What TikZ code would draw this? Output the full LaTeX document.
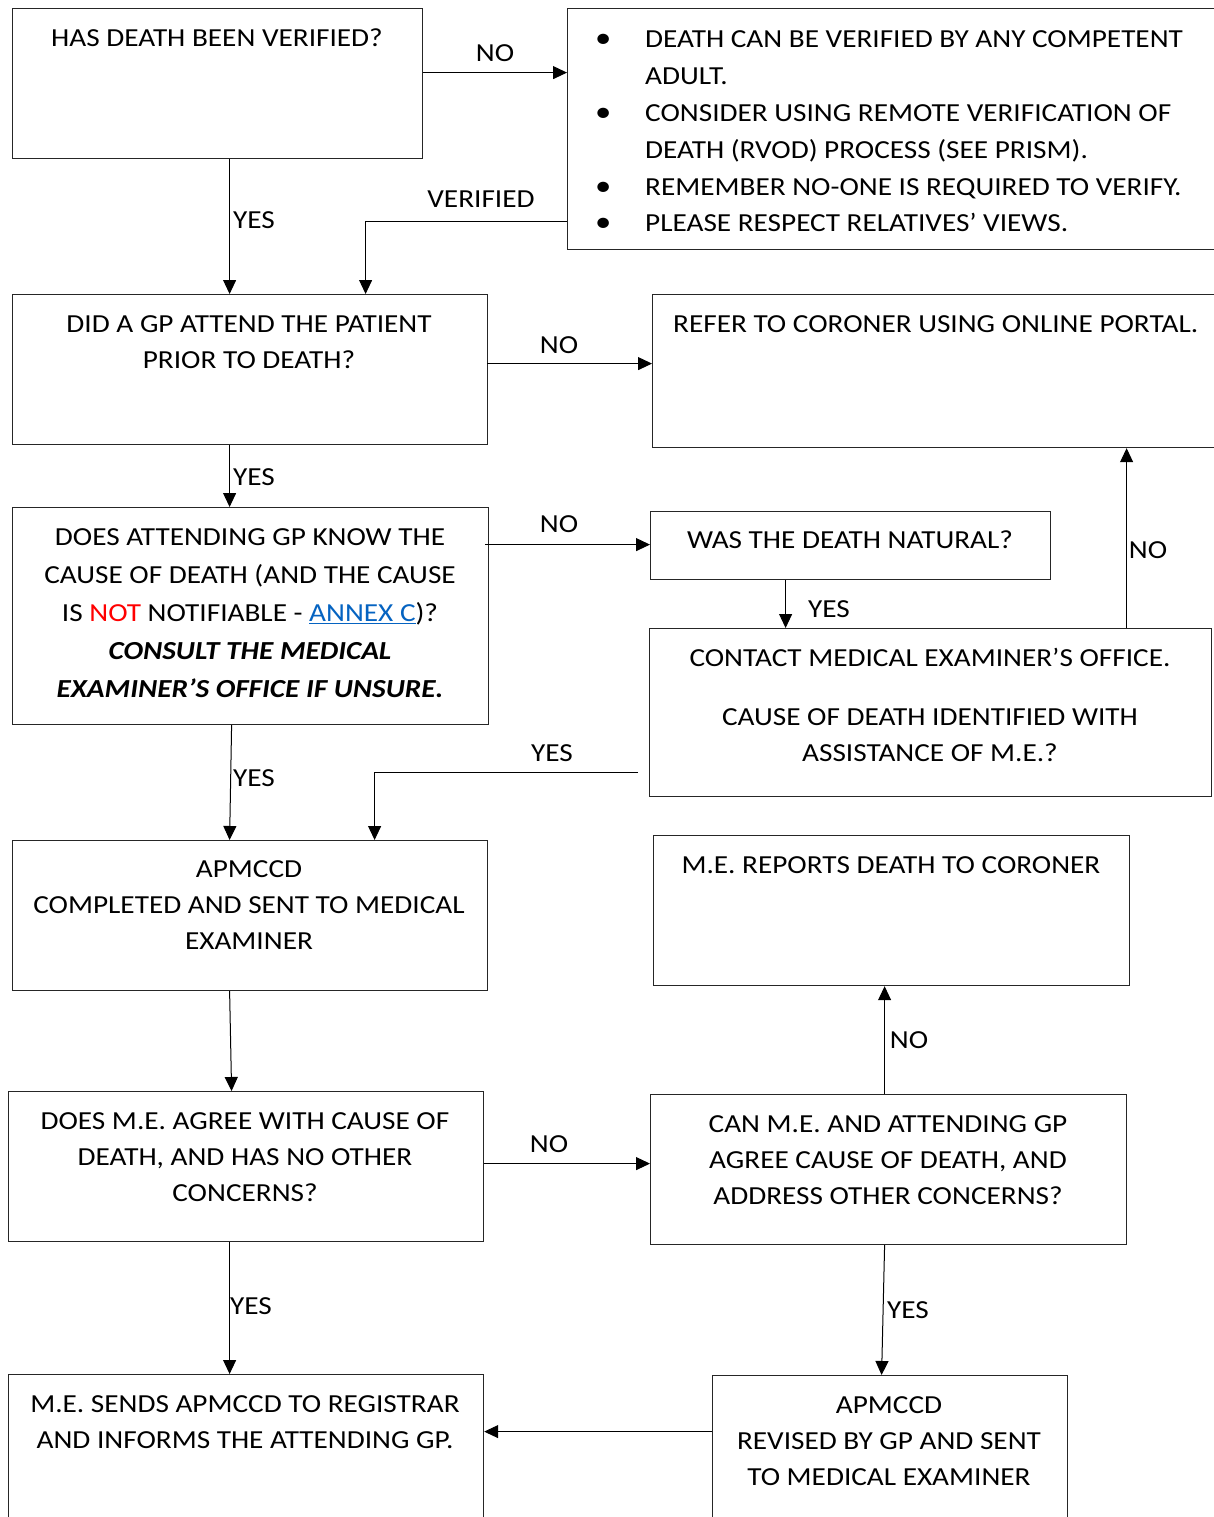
\documentclass[tikz,border=0pt]{standalone}
\usepackage{fontspec}
\setmainfont{Carlito}[FakeStretch=1.125]
\usetikzlibrary{arrows.meta}
\definecolor{linkblue}{HTML}{0563C1}
\newcommand{\bulletmark}{\makebox[26pt]{\fontsize{29}{36}\selectfont\raisebox{0pt}{\textbullet}}}
\tikzset{
  x=1pt, y=-1pt,
  box/.style={draw=black!85, line width=1.2pt, anchor=north west, inner sep=0pt, fill=none},
  txt/.style={inner sep=0pt, align=center, font=\fontsize{26}{36}\selectfont},
  lbl/.style={inner sep=0pt, font=\fontsize{26}{36}\selectfont},
  arr/.style={line width=1pt, -{Triangle[length=14pt,width=13pt]}},
}
\begin{document}
\begin{tikzpicture}
\clip (0,0) rectangle (1214,1517);
% boxes
\node[box, minimum width=410pt, minimum height=150pt] (b1) at (12,8) {};
\node[box, minimum width=700pt, minimum height=241pt] (bul) at (567,8) {};
\node[box, minimum width=475pt, minimum height=150pt] (b2) at (12,294) {};
\node[box, minimum width=600pt, minimum height=153pt] (cor) at (652,294) {};
\node[box, minimum width=476pt, minimum height=217pt] (b3) at (12,507) {};
\node[box, minimum width=400pt, minimum height=68pt] (nat) at (650,511) {};
\node[box, minimum width=562pt, minimum height=168pt] (con) at (649,628) {};
\node[box, minimum width=475pt, minimum height=150pt] (b4) at (12,840) {};
\node[box, minimum width=476pt, minimum height=150pt] (mer) at (653,835) {};
\node[box, minimum width=475pt, minimum height=150pt] (b5) at (8,1091) {};
\node[box, minimum width=476pt, minimum height=150pt] (can) at (650,1094) {};
\node[box, minimum width=475pt, minimum height=200pt] (mes) at (8,1374) {};
\node[box, minimum width=355pt, minimum height=200pt] (rev) at (712,1375) {};
% texts
\node[txt] (b1t) at (217,38) {HAS DEATH BEEN VERIFIED?};
\node[txt, anchor=north west, font=\fontsize{26}{36.8}\selectfont] (bult) at (590,22) {%
\begin{tabular}{@{}p{55pt}@{}l@{}}
\bulletmark&DEATH CAN BE VERIFIED BY ANY COMPETENT\\
&ADULT.\\
\bulletmark&CONSIDER USING REMOTE VERIFICATION OF\\
&DEATH (RVOD) PROCESS (SEE PRISM).\\
\bulletmark&REMEMBER NO-ONE IS REQUIRED TO VERIFY.\\
\bulletmark&PLEASE RESPECT RELATIVES’ VIEWS.
\end{tabular}};
\node[txt] (b2t) at (249,342) {DID A GP ATTEND THE PATIENT\\PRIOR TO DEATH?};
\node[txt, anchor=west] (cort) at (673,324) {REFER TO CORONER USING ONLINE PORTAL.};
\node[txt, font=\fontsize{26}{38}\selectfont] (b3t) at (250,613) {DOES ATTENDING GP KNOW THE\\CAUSE OF DEATH (AND THE CAUSE\\IS \textcolor{red}{NOT} NOTIFIABLE - \textcolor{linkblue}{\underline{ANNEX C}})?\\\textbf{\textit{CONSULT THE MEDICAL}}\\\textbf{\textit{EXAMINER’S OFFICE IF UNSURE.}}};
\node[txt] (natt) at (850,540) {WAS THE DEATH NATURAL?};
\node[txt] (cont) at (930,704.5) {CONTACT MEDICAL EXAMINER’S OFFICE.\\[23pt]CAUSE OF DEATH IDENTIFIED WITH\\ASSISTANCE OF M.E.?};
\node[txt] (b4t) at (249,905) {APMCCD\\COMPLETED AND SENT TO MEDICAL\\EXAMINER};
\node[txt] (mert) at (891,865) {M.E. REPORTS DEATH TO CORONER};
\node[txt] (b5t) at (245,1157) {DOES M.E. AGREE WITH CAUSE OF\\DEATH, AND HAS NO OTHER\\CONCERNS?};
\node[txt] (cant) at (888,1160) {CAN M.E. AND ATTENDING GP\\AGREE CAUSE OF DEATH, AND\\ADDRESS OTHER CONCERNS?};
\node[txt] (mest) at (245,1422) {M.E. SENDS APMCCD TO REGISTRAR\\AND INFORMS THE ATTENDING GP.};
\node[txt] (revt) at (889,1441) {APMCCD\\REVISED BY GP AND SENT\\TO MEDICAL EXAMINER};
% connectors
\draw[arr] ([yshift=11pt]b1.east) coordinate (p1) -- (p1 -| bul.west);
\draw[arr] ([xshift=12pt]b1.south) coordinate (p2) -- (p2 |- b2.north);
\draw[arr] ([yshift=-92.5pt]bul.west) -| ([xshift=115.5pt]b2.north);
\draw[arr] ([yshift=6pt,xshift=-1pt]b2.east) coordinate (p4) -- (p4 -| cor.west);
\draw[arr] ([xshift=-20.5pt]b2.south) coordinate (p5) -- (p5 |- b3.north);
\draw[arr] ([yshift=71.5pt,xshift=-4pt]b3.east) coordinate (p6) -- (p6 -| nat.west);
\draw[arr] ([xshift=-65pt]nat.south) coordinate (p7) -- (p7 |- con.north);
\draw[arr] ([xshift=196pt]con.north) coordinate (p8) -- (p8 |- cor.south);
\draw[arr] ([xshift=-19pt]b3.south) -- ([xshift=-20.5pt]b4.north);
\draw[arr] ([yshift=-60pt,xshift=-11pt]con.west) -| ([xshift=124.5pt]b4.north);
\draw[arr] ([xshift=-20.5pt]b4.south) -- ([xshift=-14.5pt]b5.north);
\draw[arr] ([yshift=3pt]b5.east) coordinate (p12) -- (p12 -| can.west);
\draw[arr] ([xshift=-4pt]can.north) coordinate (p13) -- (p13 |- mer.south);
\draw[arr] ([xshift=-16.5pt]b5.south) coordinate (p14) -- (p14 |- mes.north);
\draw[arr] ([xshift=-4pt]can.south) -- ([xshift=-8.5pt]rev.north);
\draw[arr] ([yshift=44pt]rev.west) coordinate (p16) -- (p16 -| mes.east);
% labels
\node[lbl] (l1) at (495,53) {NO};
\node[lbl] (l2) at (254,220) {YES};
\node[lbl] (l3) at (481,199) {VERIFIED};
\node[lbl] (l4) at (559,345) {NO};
\node[lbl] (l5) at (254,477) {YES};
\node[lbl] (l6) at (559,524) {NO};
\node[lbl] (l7) at (829,609) {YES};
\node[lbl] (l8) at (1148,550) {NO};
\node[lbl] (l9) at (254,778) {YES};
\node[lbl] (l10) at (552,753) {YES};
\node[lbl] (l11) at (549,1144) {NO};
\node[lbl] (l12) at (909,1040) {NO};
\node[lbl] (l13) at (251,1306) {YES};
\node[lbl] (l14) at (908,1310) {YES};
\end{tikzpicture}
\end{document}
